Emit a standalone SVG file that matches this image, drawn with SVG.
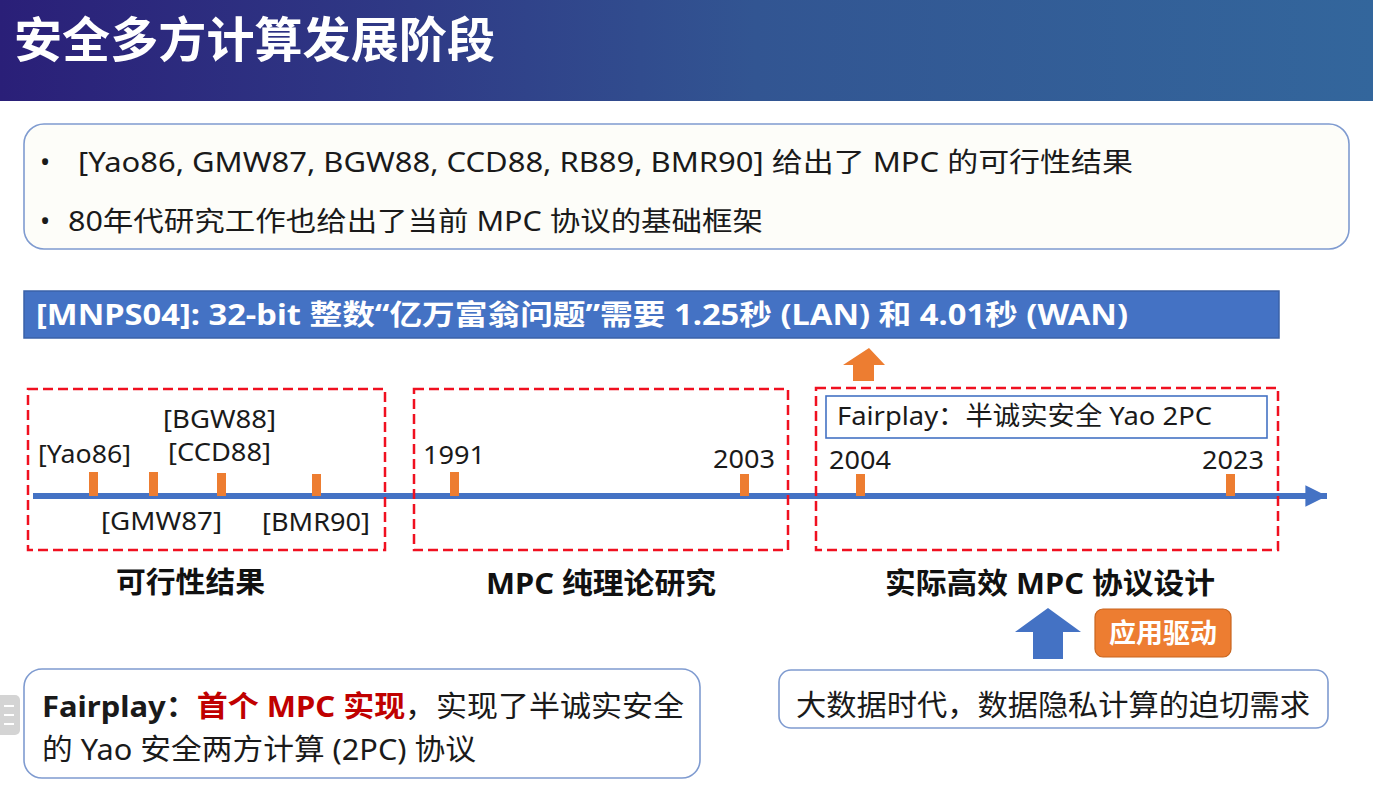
<svg xmlns="http://www.w3.org/2000/svg" width="1373" height="790" viewBox="0 0 1373 790">
  <defs>
    <linearGradient id="hdr" x1="0" y1="0" x2="1" y2="0">
      <stop offset="0" stop-color="#2a1f78"/>
      <stop offset="0.3" stop-color="#2f3a86"/>
      <stop offset="0.55" stop-color="#325592"/>
      <stop offset="1" stop-color="#33669c"/>
    </linearGradient>
    <marker id="axisHead" viewBox="0 0 10 10" refX="10" refY="5" markerWidth="3.6" markerHeight="3.6" orient="auto" markerUnits="strokeWidth">
      <path d="M0,0 L10,5 L0,10 Z" fill="#4472c4"/>
    </marker>
  </defs>
  <style>
    text { font-family: "Noto Sans", "Noto Sans CJK SC", sans-serif; fill: #1a1a1a; }
    .title { font-size: 48px; font-weight: bold; fill: #ffffff; font-family: "Noto Sans CJK SC", sans-serif; }
    .body { font-size: 27px; }
    .banner { font-size: 28px; font-weight: bold; fill: #ffffff; }
    .lbl { font-size: 26px; }
    .phase { font-size: 29px; font-weight: bold; fill: #111111; }
    .phase-box { fill: none; stroke: #f01020; stroke-width: 2.5; stroke-dasharray: 10 5; }
    .tick { fill: #ed7d31; }
    .card { fill: #ffffff; stroke: #7f9bd0; stroke-width: 1.6; }
    .hl { fill: #c00000; font-weight: bold; }
  </style>

  <rect width="1373" height="790" fill="#ffffff"/>

  <!-- header bar -->
  <g id="header">
    <rect x="0" y="0" width="1373" height="101" fill="url(#hdr)"/>
    <text class="title" x="14" y="57" textLength="481" lengthAdjust="spacingAndGlyphs">安全多方计算发展阶段</text>
  </g>

  <!-- summary card -->
  <g id="summary">
    <rect x="24" y="124" width="1325" height="125" rx="20" fill="#fdfdf9" stroke="#7f9bd0" stroke-width="1.6"/>
    <text class="body" x="40" y="172">•</text>
    <text class="body" x="78" y="172" textLength="1055" lengthAdjust="spacingAndGlyphs">[Yao86, GMW87, BGW88, CCD88, RB89, BMR90] 给出了 MPC 的可行性结果</text>
    <text class="body" x="40" y="231">•</text>
    <text class="body" x="68" y="231" textLength="695" lengthAdjust="spacingAndGlyphs">80年代研究工作也给出了当前 MPC 协议的基础框架</text>
  </g>

  <!-- MNPS04 banner -->
  <g id="banner">
    <rect x="24" y="291" width="1255" height="47" fill="#4472c4" stroke="#3a62a8" stroke-width="1.5"/>
    <text class="banner" x="36" y="325" textLength="1092" lengthAdjust="spacingAndGlyphs">[MNPS04]: 32-bit 整数“亿万富翁问题”需要 1.25秒 (LAN) 和 4.01秒 (WAN)</text>
  </g>

  <!-- orange arrow pointing up to banner -->
  <g id="arrow-up-orange">
    <path d="M869,348 L885,365 L874,365 L874,381 L853,381 L853,365 L843,365 Z" fill="#ed7d31"/>
  </g>

  <!-- timeline connectors -->
  <g id="connectors">
    <line x1="33" y1="496" x2="1327" y2="496" stroke="#4472c4" stroke-width="6" marker-end="url(#axisHead)"/>
  </g>

  <!-- phase 1: feasibility results -->
  <g id="phase-feasibility">
    <rect class="phase-box" x="28" y="389" width="357" height="161"/>
    <rect class="tick" x="89" y="472" width="9" height="24"/>
    <rect class="tick" x="149" y="472" width="9" height="24"/>
    <rect class="tick" x="217" y="473" width="9" height="23"/>
    <rect class="tick" x="312" y="474" width="9" height="22"/>
    <text class="lbl" x="38" y="463" textLength="93" lengthAdjust="spacingAndGlyphs">[Yao86]</text>
    <text class="lbl" x="163" y="428" textLength="113" lengthAdjust="spacingAndGlyphs">[BGW88]</text>
    <text class="lbl" x="168" y="461" textLength="103" lengthAdjust="spacingAndGlyphs">[CCD88]</text>
    <text class="lbl" x="101" y="530" textLength="121" lengthAdjust="spacingAndGlyphs">[GMW87]</text>
    <text class="lbl" x="262" y="531" textLength="108" lengthAdjust="spacingAndGlyphs">[BMR90]</text>
    <text class="phase" x="116" y="593" textLength="149" lengthAdjust="spacingAndGlyphs">可行性结果</text>
  </g>

  <!-- phase 2: pure theory -->
  <g id="phase-theory">
    <rect class="phase-box" x="414" y="389" width="374" height="161"/>
    <rect class="tick" x="450" y="472" width="9" height="24"/>
    <rect class="tick" x="740" y="474" width="9" height="22"/>
    <text class="lbl" x="423" y="464" textLength="62" lengthAdjust="spacingAndGlyphs">1991</text>
    <text class="lbl" x="713" y="468" textLength="62" lengthAdjust="spacingAndGlyphs">2003</text>
    <text class="phase" x="486" y="594" textLength="230" lengthAdjust="spacingAndGlyphs">MPC 纯理论研究</text>
  </g>

  <!-- phase 3: practical protocols -->
  <g id="phase-practical">
    <rect class="phase-box" x="816" y="388" width="462" height="162"/>
    <rect x="826" y="396" width="441" height="42" fill="#ffffff" stroke="#4472c4" stroke-width="1.6"/>
    <text class="lbl" x="837" y="425" textLength="375" lengthAdjust="spacingAndGlyphs">Fairplay：半诚实安全 Yao 2PC</text>
    <rect class="tick" x="856" y="474" width="9" height="22"/>
    <rect class="tick" x="1226" y="474" width="9" height="22"/>
    <text class="lbl" x="829" y="469" textLength="62" lengthAdjust="spacingAndGlyphs">2004</text>
    <text class="lbl" x="1202" y="469" textLength="62" lengthAdjust="spacingAndGlyphs">2023</text>
    <text class="phase" x="885" y="594" textLength="330" lengthAdjust="spacingAndGlyphs">实际高效 MPC 协议设计</text>
  </g>

  <!-- application driver -->
  <g id="driver">
    <path d="M1048,608 L1081,632 L1063,632 L1063,659 L1033,659 L1033,632 L1015,632 Z" fill="#4472c4"/>
    <rect x="1095" y="609" width="136" height="48" rx="8" fill="#ed7d31" stroke="#c8651f" stroke-width="1.2"/>
    <text x="1163" y="643" text-anchor="middle" font-size="27" font-weight="bold" style="fill:#ffffff">应用驱动</text>
  </g>

  <!-- big data demand card -->
  <g id="demand">
    <rect class="card" x="779" y="670" width="549" height="58" rx="12"/>
    <text x="796" y="716" font-size="29" textLength="514" lengthAdjust="spacingAndGlyphs">大数据时代，数据隐私计算的迫切需求</text>
  </g>

  <!-- Fairplay note card -->
  <g id="fairplay-note">
    <rect class="card" x="24" y="669" width="676" height="109" rx="18"/>
    <text x="42" y="717" font-size="29" textLength="642" lengthAdjust="spacingAndGlyphs"><tspan font-weight="bold">Fairplay：</tspan><tspan class="hl">首个 MPC 实现</tspan>，实现了半诚实安全</text>
    <text x="42" y="760" font-size="29" textLength="434" lengthAdjust="spacingAndGlyphs">的 Yao 安全两方计算 (2PC) 协议</text>
  </g>

  <!-- side tab -->
  <g id="side-tab">
    <rect x="-8" y="695" width="28" height="40" rx="5" fill="#d4d4d4"/>
    <g stroke="#ffffff" stroke-width="2">
      <line x1="4" y1="706" x2="14" y2="706"/>
      <line x1="4" y1="715" x2="14" y2="715"/>
      <line x1="4" y1="724" x2="14" y2="724"/>
    </g>
  </g>
</svg>
